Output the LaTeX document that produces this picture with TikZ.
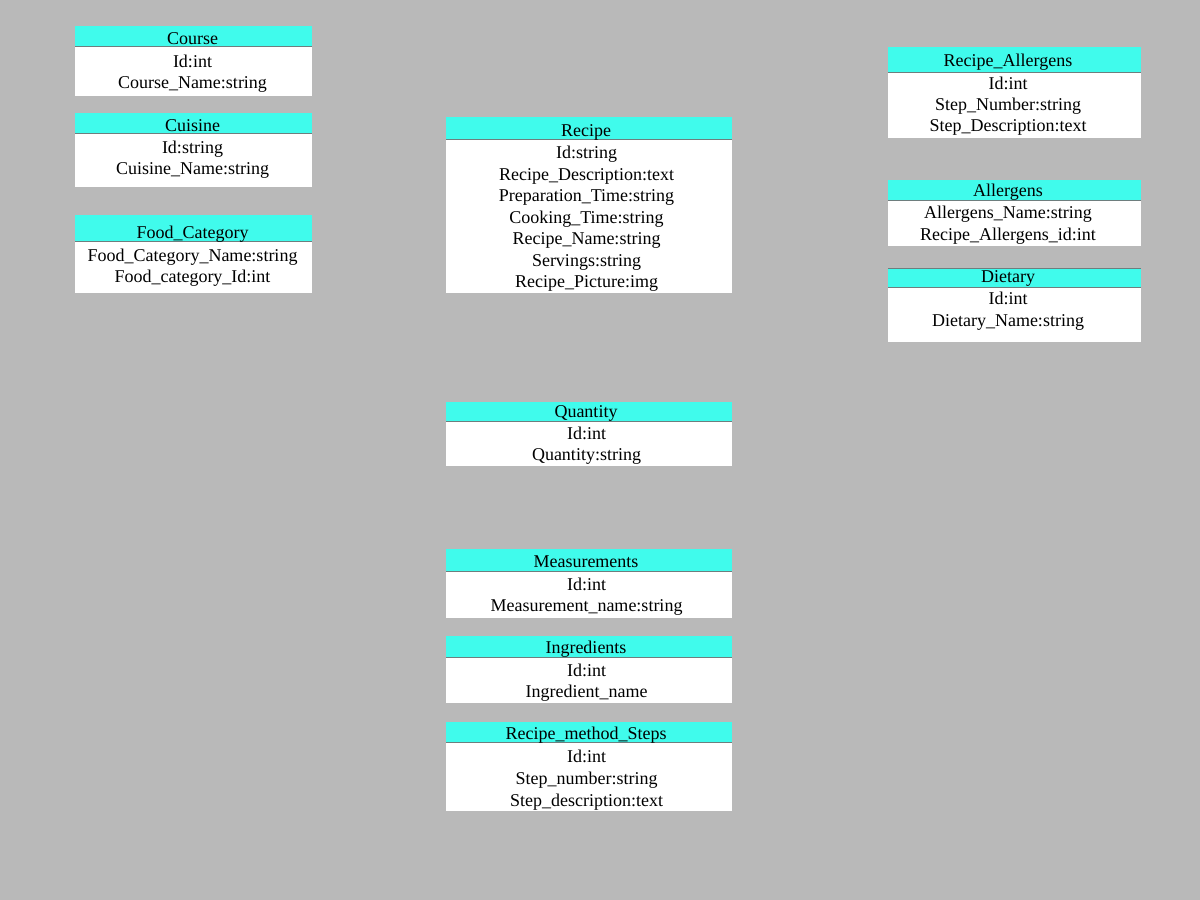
\documentclass[tikz,border=0pt]{standalone}
\usepackage{fontspec}
\setmainfont{Liberation Serif}
\definecolor{bg}{HTML}{B9B9B9}
\definecolor{hdr}{HTML}{40FBEC}
\definecolor{sep}{HTML}{6E7E7E}
\tikzset{
  hdrfill/.style={fill=hdr, draw=none},
  bodyfill/.style={fill=white, draw=none},
  sepline/.style={draw=sep, line width=1pt},
  txt/.style={anchor=base, inner sep=0pt, font=\fontsize{18}{21.6}\selectfont, text=black}
}
% \tbl{id}{x1}{x2}{ytop}{yline}{ybot}
\newcommand{\tbl}[6]{%
  \fill[hdrfill] (#2,#4) rectangle (#3,#5);
  \fill[bodyfill] (#2,#5) rectangle (#3,#6);
  \draw[sepline] (#2,#5) -- (#3,#5);
  \coordinate (#1) at ({(#2+#3)/2},#4);
}
\begin{document}
\begin{tikzpicture}[x=1pt,y=-1pt]
\fill[bg] (0,0) rectangle (1200,900);
\useasboundingbox (0,0) rectangle (1200,900);

% Course
\tbl{course}{75}{312}{26}{46.5}{96}
\node[txt] (courseT) at (192.5,44) {Course};
\node[txt] (course1) at (192.5,67) {Id:int};
\node[txt] (course2) at (192.5,88) {Course\_Name:string};

% Cuisine
\tbl{cuisine}{75}{312}{113}{133.5}{187}
\node[txt] (cuisineT) at (192.5,131) {Cuisine};
\node[txt] (cuisine1) at (192.5,153) {Id:string};
\node[txt] (cuisine2) at (192.5,174) {Cuisine\_Name:string};

% Food_Category
\tbl{food}{75}{312}{215}{241}{293}
\node[txt] (foodT) at (192.5,238.5) {Food\_Category};
\node[txt] (food1) at (192.5,261) {Food\_Category\_Name:string};
\node[txt] (food2) at (192.5,282) {Food\_category\_Id:int};

% Recipe
\tbl{recipe}{446}{732}{117}{139}{293}
\node[txt] (recipeT) at (586,136) {Recipe};
\node[txt] (recipe1) at (586.5,158) {Id:string};
\node[txt] (recipe2) at (586.5,180) {Recipe\_Description:text};
\node[txt] (recipe3) at (586.5,201.5) {Preparation\_Time:string};
\node[txt] (recipe4) at (586.5,223) {Cooking\_Time:string};
\node[txt] (recipe5) at (586.5,244.5) {Recipe\_Name:string};
\node[txt] (recipe6) at (586.5,266) {Servings:string};
\node[txt] (recipe7) at (586.5,287.5) {Recipe\_Picture:img};

% Quantity
\tbl{quantity}{446}{732}{402}{421.5}{466}
\node[txt] (quantityT) at (586,417) {Quantity};
\node[txt] (quantity1) at (586.5,439) {Id:int};
\node[txt] (quantity2) at (586.5,460.5) {Quantity:string};

% Measurements
\tbl{meas}{446}{732}{549}{571}{618}
\node[txt] (measT) at (586,567.5) {Measurements};
\node[txt] (meas1) at (586.5,590) {Id:int};
\node[txt] (meas2) at (586.5,611.5) {Measurement\_name:string};

% Ingredients
\tbl{ingr}{446}{732}{636}{657}{703}
\node[txt] (ingrT) at (586,653.5) {Ingredients};
\node[txt] (ingr1) at (586.5,676) {Id:int};
\node[txt] (ingr2) at (586.5,697.5) {Ingredient\_name};

% Recipe_method_Steps
\tbl{steps}{446}{732}{722}{742.5}{811}
\node[txt] (stepsT) at (586,739.5) {Recipe\_method\_Steps};
\node[txt] (steps1) at (586.5,762.5) {Id:int};
\node[txt] (steps2) at (586.5,784) {Step\_number:string};
\node[txt] (steps3) at (586.5,806) {Step\_description:text};

% Recipe_Allergens
\tbl{ra}{888}{1141}{47}{72.5}{138}
\node[txt] (raT) at (1008,66.5) {Recipe\_Allergens};
\node[txt] (ra1) at (1008,89) {Id:int};
\node[txt] (ra2) at (1008,110) {Step\_Number:string};
\node[txt] (ra3) at (1008,131.5) {Step\_Description:text};

% Allergens
\tbl{all}{888}{1141}{180}{200}{246}
\node[txt] (allT) at (1008,196) {Allergens};
\node[txt] (all1) at (1008,218.5) {Allergens\_Name:string};
\node[txt] (all2) at (1008,240) {Recipe\_Allergens\_id:int};

% Dietary
\tbl{diet}{888}{1141}{268}{287}{342}
\draw[sepline] (888,268) -- (1141,268);
\node[txt] (dietT) at (1008,282.5) {Dietary};
\node[txt] (diet1) at (1008,304.5) {Id:int};
\node[txt] (diet2) at (1008,326.5) {Dietary\_Name:string};
\end{tikzpicture}
\end{document}
